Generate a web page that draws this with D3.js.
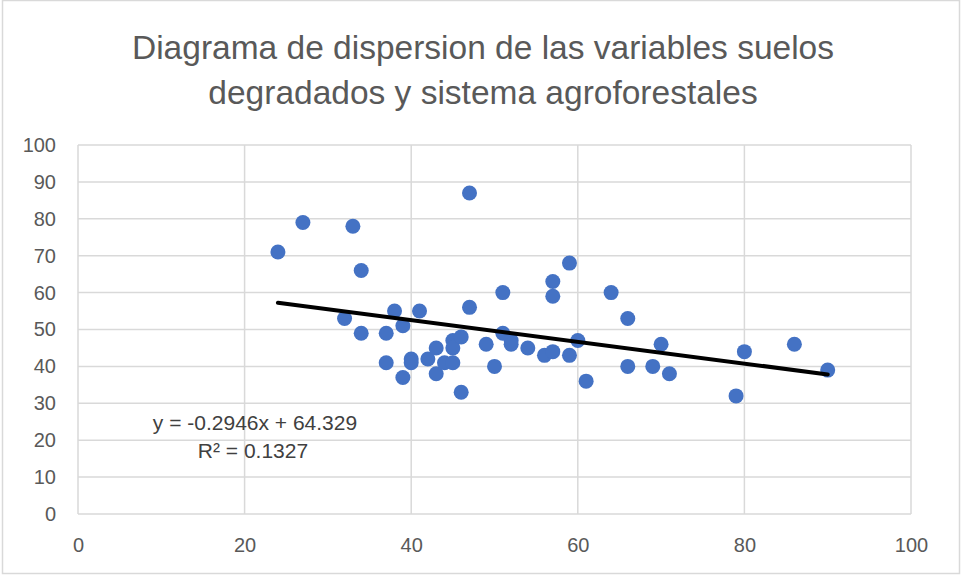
<!DOCTYPE html>
<html>
<head>
<meta charset="utf-8">
<script src="https://cdn.jsdelivr.net/npm/d3@7"></script>
<style>
  body { margin: 0; background: #fff; }
  text { font-family: "Liberation Sans", Arial, sans-serif; }
</style>
</head>
<body>
<div id="chart"></div>
<script>
// values
const xVals = [24, 27, 33, 34, 47, 32, 34, 38, 37, 39, 41, 47, 37, 39, 40, 40, 42, 43, 43, 44,
               45, 45, 45, 46, 46, 49, 50, 51, 51, 52, 52, 54, 56, 57, 57, 57, 59, 59, 60, 61,
               64, 66, 66, 69, 70, 71, 79, 80, 86, 90];
const yVals = [71, 79, 78, 66, 87, 53, 49, 55, 49, 51, 55, 56, 41, 37, 42, 41, 42, 45, 38, 41,
               41, 47, 45, 48, 33, 46, 40, 60, 49, 47, 46, 45, 43, 44, 63, 59, 68, 43, 47, 36,
               60, 53, 40, 40, 46, 38, 32, 44, 46, 39];
const xTicks = [0, 20, 40, 60, 80, 100];
const yTicks = [0, 10, 20, 30, 40, 50, 60, 70, 80, 90, 100];
const slope = -0.2946, intercept = 64.329, rSquared = 0.1327;
const titleLines = ["Diagrama de dispersion de las variables suelos", "degradados y sistema agroforestales"];

const w = 961, h = 575;
const svg = d3.select('#chart').append('svg').attr('width', w).attr('height', h);

svg.append('rect').attr('x', 2.5).attr('y', 0.5).attr('width', w - 4).attr('height', h - 2)
  .attr('fill', '#fff').attr('stroke', '#d9d9d9').attr('stroke-width', 1.5);

const x = d3.scaleLinear().domain([0, 100]).range([78, 911]);
const y = d3.scaleLinear().domain([0, 100]).range([514, 145]);

// gridlines
svg.append('g').selectAll('line.h').data(yTicks).join('line')
  .attr('x1', x(0)).attr('x2', x(100))
  .attr('y1', d => y(d)).attr('y2', d => y(d))
  .attr('stroke', '#d9d9d9').attr('stroke-width', 1.5);
svg.append('g').selectAll('line.v').data(xTicks).join('line')
  .attr('x1', d => x(d)).attr('x2', d => x(d))
  .attr('y1', y(0)).attr('y2', y(100))
  .attr('stroke', '#d9d9d9').attr('stroke-width', 1.5);

// axes (labels only)
const yAxis = svg.append('g').attr('transform', `translate(${x(0)},0)`)
  .call(d3.axisLeft(y).tickValues(yTicks).tickSize(0).tickPadding(22));
const xAxis = svg.append('g').attr('transform', `translate(0,${y(0)})`)
  .call(d3.axisBottom(x).tickValues(xTicks).tickSize(0).tickPadding(24));
[xAxis, yAxis].forEach(a => {
  a.select('.domain').remove();
  a.selectAll('text').attr('fill', '#595959').style('font-size', '20px')
    .style('font-family', '"Liberation Sans", Arial, sans-serif');
});

// points
const pts = xVals.map((d, i) => ({x: d, y: yVals[i]}));
svg.append('g').selectAll('circle').data(pts).join('circle')
  .attr('cx', d => x(d.x)).attr('cy', d => y(d.y)).attr('r', 7.5)
  .attr('fill', '#4472c4');

// trendline
const xr = d3.extent(xVals);
svg.append('line')
  .attr('x1', x(xr[0])).attr('y1', y(slope * xr[0] + intercept))
  .attr('x2', x(xr[1])).attr('y2', y(slope * xr[1] + intercept))
  .attr('stroke', '#000').attr('stroke-width', 4).attr('stroke-linecap', 'round');

// equation
svg.append('text').attr('x', 255).attr('y', 430).attr('text-anchor', 'middle')
  .attr('fill', '#404040').style('font-size', '21px')
  .text(`y = ${slope}x + ${intercept}`);
svg.append('text').attr('x', 253).attr('y', 458).attr('text-anchor', 'middle')
  .attr('fill', '#404040').style('font-size', '21px')
  .text(`R² = ${rSquared}`);

// title
svg.append('g').selectAll('text').data(titleLines).join('text')
  .attr('x', 483).attr('y', (d, i) => 59 + i * 45)
  .attr('text-anchor', 'middle').attr('fill', '#595959')
  .style('font-size', '33.5px').text(d => d);
</script>
</body>
</html>
